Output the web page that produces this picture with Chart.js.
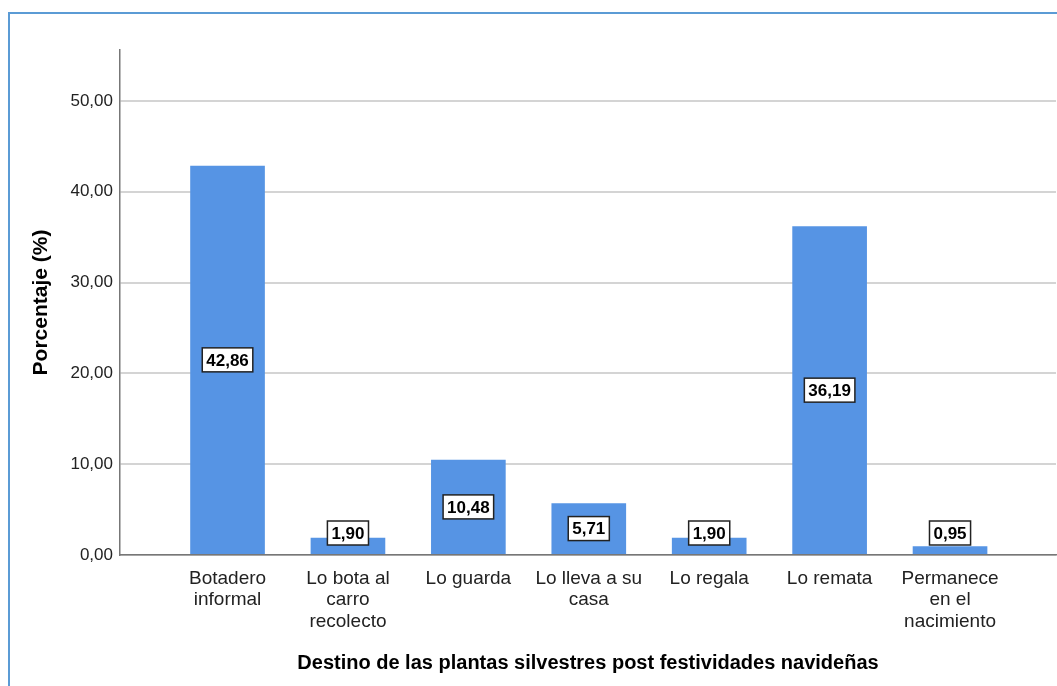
<!DOCTYPE html>
<html lang="es">
<head>
    <meta charset="UTF-8">
    <title>Destino de las plantas silvestres</title>
    <script src="https://cdn.jsdelivr.net/npm/chart.js@4.4.0/dist/chart.umd.min.js"></script>
    <style>
        html, body { margin: 0; padding: 0; background: #fff; overflow: hidden; }
        .frame {
            position: absolute; left: 8px; top: 12px; width: 1200px; height: 800px;
            border-top: 2px solid #5b9bd5; border-left: 2px solid #5b9bd5;
        }
        .wrap { position: absolute; left: 0; top: 0; width: 1057px; height: 686px; }
    </style>
</head>
<body>
    <div class="frame"></div>
    <div class="wrap"><canvas id="barChart"></canvas></div>

    <script>
        // datos
        const categories = [
            ['Botadero', 'informal'],
            ['Lo bota al', 'carro', 'recolecto'],
            ['Lo guarda'],
            ['Lo lleva a su', 'casa'],
            ['Lo regala'],
            ['Lo remata'],
            ['Permanece', 'en el', 'nacimiento']
        ];
        const percentages = [42.86, 1.90, 10.48, 5.71, 1.90, 36.19, 0.95];
        const yTicks = [0, 10, 20, 30, 40, 50];

        const FONT = "'Liberation Sans', Arial, sans-serif";
        const fmt = v => v.toFixed(2).replace('.', ',');

        // etiquetas con recuadro blanco sobre cada barra
        const boxLabels = {
            id: 'boxLabels',
            afterDatasetsDraw(chart) {
                const ctx = chart.ctx;
                const meta = chart.getDatasetMeta(0);
                ctx.save();
                ctx.font = "bold 17px " + FONT;
                ctx.textAlign = 'center';
                ctx.textBaseline = 'middle';
                meta.data.forEach((bar, i) => {
                    const text = fmt(percentages[i]);
                    const w = ctx.measureText(text).width + 8;
                    const h = 24;
                    const cx = bar.x;
                    const cy = Math.min((bar.y + bar.base) / 2, bar.base - 21);
                    ctx.fillStyle = '#fff';
                    ctx.fillRect(cx - w / 2, cy - h / 2, w, h);
                    ctx.strokeStyle = '#222';
                    ctx.lineWidth = 1.5;
                    ctx.strokeRect(cx - w / 2, cy - h / 2, w, h);
                    ctx.fillStyle = '#000';
                    ctx.fillText(text, cx, cy + 1);
                });
                ctx.restore();
            }
        };

        new Chart(document.getElementById('barChart'), {
            type: 'bar',
            data: {
                datasets: [{
                    data: percentages.map((v, i) => ({ x: i, y: v })),
                    backgroundColor: '#5694e4',
                    borderWidth: 0,
                    categoryPercentage: 1,
                    barPercentage: 0.62
                }]
            },
            options: {
                responsive: true,
                maintainAspectRatio: false,
                animation: false,
                layout: { padding: { top: 50, right: 1, left: 0, bottom: 0 } },
                plugins: { legend: { display: false }, tooltip: { enabled: false } },
                scales: {
                    x: {
                        type: 'linear',
                        offset: false,
                        min: -0.893,
                        max: 6.88,
                        grid: { display: false, drawTicks: false, offset: false },
                        border: { color: '#777', width: 1.5 },
                        afterBuildTicks: s => { s.ticks = categories.map((c, i) => ({ value: i })); },
                        afterFit: s => { s.height = 131; },
                        ticks: {
                            autoSkip: false,
                            maxRotation: 0,
                            padding: 13,
                            color: '#222',
                            font: { family: FONT, size: 19, lineHeight: 1.13 },
                            callback: v => categories[v]
                        },
                        title: {
                            display: true,
                            text: 'Destino de las plantas silvestres post festividades navideñas',
                            color: '#000',
                            font: { family: FONT, size: 20, weight: 'bold' },
                            padding: { top: 0, bottom: 11 }
                        }
                    },
                    y: {
                        min: 0,
                        max: 55.6,
                        afterBuildTicks: s => { s.ticks = yTicks.map(v => ({ value: v })); },
                        afterFit: s => { s.width = 120; },
                        grid: { color: '#d4d4d4', lineWidth: 2, drawTicks: false },
                        border: { color: '#777', width: 1.5 },
                        ticks: {
                            padding: 7,
                            color: '#222',
                            font: { family: FONT, size: 17 },
                            callback: v => fmt(v)
                        },
                        title: {
                            display: true,
                            text: 'Porcentaje (%)',
                            color: '#000',
                            font: { family: FONT, size: 21, weight: 'bold' },
                            padding: { top: 29, bottom: 0 }
                        }
                    }
                }
            },
            plugins: [boxLabels]
        });
    </script>
</body>
</html>
